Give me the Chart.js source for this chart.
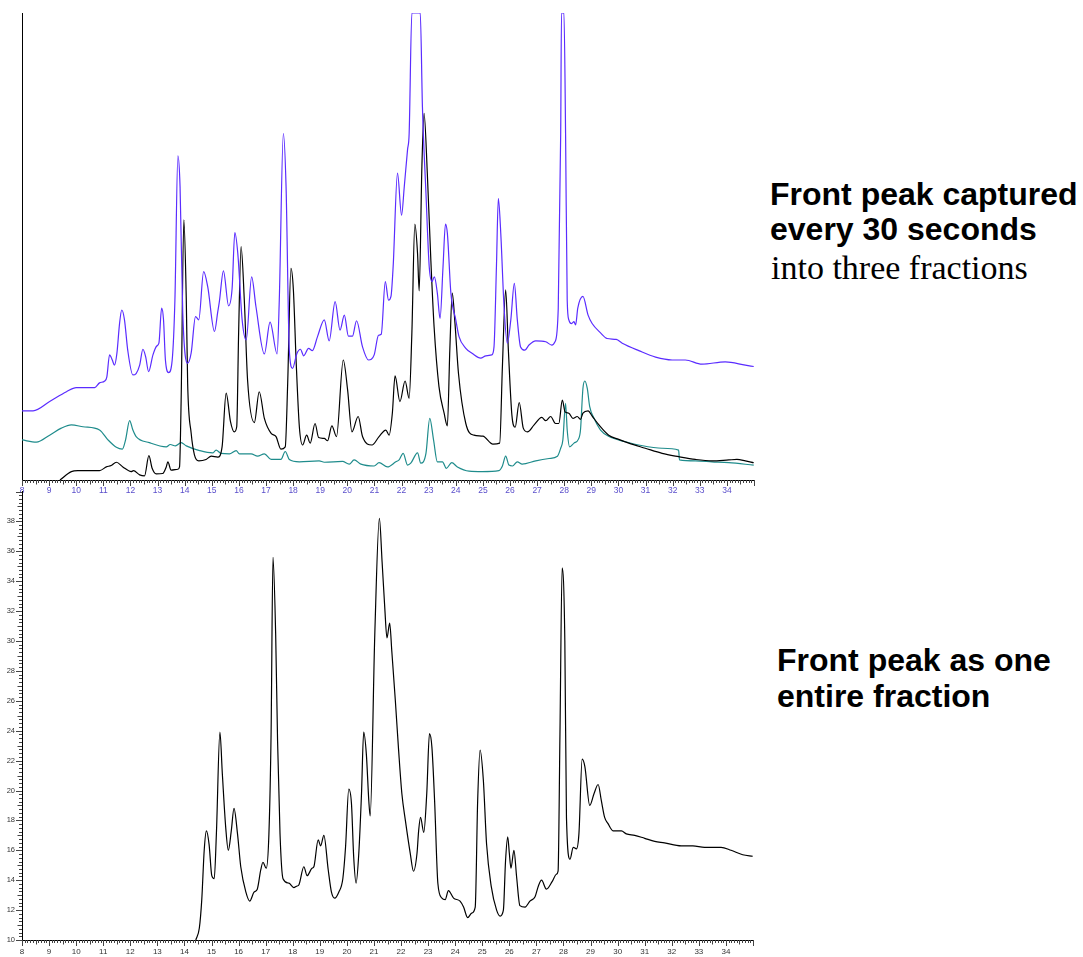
<!DOCTYPE html>
<html>
<head>
<meta charset="utf-8">
<script src="https://cdn.jsdelivr.net/npm/chart.js@4.4.1/dist/chart.umd.min.js"></script>
<style>
  html, body { margin: 0; padding: 0; background: #fff; overflow: hidden; }
  body { width: 1083px; height: 957px; position: relative; }
  canvas { position: absolute; left: 0; }
  #fractions { top: 0; }
  #whole { top: 480px; }
  .note { position: absolute; color: #000; white-space: nowrap; }
  .bold { font-family: 'Liberation Sans', Arial, sans-serif; font-weight: 700; font-size: 32px; }
  .serif { font-family: 'Liberation Serif', 'Times New Roman', serif; font-size: 34px; }
</style>
</head>
<body>
<canvas id="fractions" width="760" height="500"></canvas>
<canvas id="whole" width="760" height="480"></canvas>

<div class="note bold" style="left:770px; top:177px; line-height:35px;">Front peak captured<br>every 30 seconds</div>
<div class="note serif" style="left:771px; top:248px; line-height:40px;">into three fractions</div>
<div class="note bold" style="left:777px; top:642px; line-height:36px;">Front peak as one<br>entire fraction</div>

<script>
// Fraccionado: tres trazas (tiempo en min, señal en unidades relativas)
const blueTime = [8.00, 8.41, 9.02, 9.64, 10.0, 10.68, 10.86, 11.05, 11.13, 11.23, 11.33, 11.41, 11.50, 11.60, 11.68, 11.78, 11.90, 12.09, 12.21, 12.34, 12.46, 12.56, 12.67, 12.83, 12.97, 13.05, 13.15, 13.22, 13.29, 13.41, 13.54, 13.64, 13.75, 13.83, 13.93, 14.11, 14.24, 14.40, 14.52, 14.70, 14.85, 15.10, 15.22, 15.28, 15.43, 15.62, 15.75, 15.85, 15.96, 16.12, 16.27, 16.47, 16.63, 16.94, 17.15, 17.41, 17.49, 17.64, 17.74, 17.86, 17.98, 18.14, 18.27, 18.39, 18.57, 18.71, 18.90, 19.15, 19.33, 19.55, 19.73, 19.89, 20.04, 20.19, 20.34, 20.56, 20.78, 20.99, 21.15, 21.25, 21.40, 21.52, 21.61, 21.69, 21.85, 22.00, 22.10, 22.22, 22.28, 22.38, 22.69, 22.77, 22.90, 23.02, 23.12, 23.21, 23.32, 23.42, 23.53, 23.62, 23.69, 23.82, 24.00, 24.12, 24.37, 24.61, 24.92, 25.11, 25.33, 25.41, 25.50, 25.57, 25.66, 25.78, 25.90, 26.03, 26.16, 26.27, 26.39, 26.55, 26.70, 26.95, 27.32, 27.54, 27.66, 27.78, 27.87, 27.90, 27.99, 28.05, 28.11, 28.17, 28.27, 28.36, 28.42, 28.50, 28.69, 28.88, 29.03, 29.34, 29.58, 29.92, 30.14, 30.75, 31.37, 31.98, 32.47, 33.08, 33.94, 34.68, 34.99];
const blueSignal = [14.8, 14.8, 16.8, 18.9, 19.8, 19.8, 20.8, 21.2, 22.1, 26.8, 25.7, 24.6, 27.1, 33.6, 36.4, 34.3, 27.8, 22.5, 22.8, 24.6, 28.0, 26.4, 23.2, 26.8, 28.7, 29.3, 36.8, 34.3, 25.7, 23.0, 25.7, 38.5, 69.4, 62.8, 35.7, 25.0, 27.2, 35.0, 34.3, 44.6, 41.4, 31.8, 36.0, 38.2, 44.8, 37.3, 41.0, 53.0, 48.5, 34.3, 30.0, 43.5, 37.1, 27.0, 33.8, 27.0, 38.5, 74.2, 62.8, 27.8, 23.9, 27.1, 28.0, 26.6, 28.2, 27.7, 30.7, 34.3, 29.8, 38.2, 32.1, 35.3, 30.8, 30.8, 34.1, 28.5, 25.7, 26.8, 31.0, 31.2, 42.5, 38.5, 39.3, 45.7, 65.7, 56.7, 62.8, 70.7, 74.2, 100, 100, 79.9, 61.4, 45.7, 42.5, 43.5, 40.0, 34.6, 45.7, 54.8, 52.8, 40.0, 34.3, 30.7, 28.2, 27.1, 26.1, 26.6, 26.8, 28.5, 45.7, 60.3, 52.8, 37.1, 29.3, 34.3, 42.1, 34.3, 28.5, 27.8, 28.9, 29.8, 29.6, 28.9, 29.6, 36.8, 74.3, 100, 100, 74.2, 38.5, 34.3, 33.5, 33.9, 33.2, 36.8, 39.3, 35.3, 33.5, 31.5, 30.3, 30.1, 29.3, 27.7, 26.3, 25.7, 25.7, 24.8, 25.3, 24.6, 24.3];

const blackTime = [9.40, 9.82, 10.06, 10.86, 11.11, 11.29, 11.48, 11.72, 12.03, 12.11, 12.34, 12.52, 12.68, 12.80, 12.95, 13.19, 13.32, 13.38, 13.50, 13.75, 13.81, 13.87, 13.97, 14.06, 14.11, 14.24, 14.36, 14.52, 14.79, 14.98, 15.22, 15.38, 15.53, 15.69, 15.83, 15.92, 15.99, 16.08, 16.20, 16.32, 16.57, 16.75, 16.94, 17.19, 17.37, 17.55, 17.71, 17.80, 17.92, 18.01, 18.11, 18.23, 18.35, 18.50, 18.63, 18.81, 18.94, 19.15, 19.27, 19.43, 19.60, 19.85, 20.01, 20.17, 20.40, 20.56, 20.91, 21.17, 21.42, 21.54, 21.66, 21.76, 21.94, 22.13, 22.28, 22.38, 22.49, 22.59, 22.65, 22.75, 22.83, 22.95, 23.08, 23.20, 23.38, 23.57, 23.69, 23.78, 23.87, 23.97, 24.10, 24.37, 24.67, 25.00, 25.37, 25.62, 25.72, 25.84, 25.94, 26.07, 26.19, 26.34, 26.49, 26.64, 26.89, 27.17, 27.32, 27.50, 27.68, 27.80, 27.93, 28.03, 28.17, 28.32, 28.48, 28.60, 28.69, 28.88, 29.03, 29.28, 29.64, 30.01, 30.38, 30.99, 31.61, 32.22, 32.84, 33.45, 34.07, 34.37, 34.68, 34.99];
const blackSignal = [0.0, 1.8, 2.0, 2.0, 2.8, 3.1, 3.8, 2.8, 1.8, 2.0, 1.1, 0.9, 5.2, 2.5, 1.3, 1.4, 2.8, 3.9, 2.1, 2.3, 2.8, 17.1, 55.7, 38.5, 20.7, 10.0, 5.4, 4.1, 4.4, 5.1, 4.9, 7.1, 18.6, 12.5, 10.3, 11.4, 31.4, 50.0, 38.5, 21.4, 12.3, 18.9, 13.2, 10.0, 9.3, 6.6, 7.1, 20.7, 45.3, 40.7, 25.7, 11.4, 7.5, 9.6, 7.9, 12.1, 9.1, 8.9, 8.4, 11.6, 9.3, 25.7, 19.3, 10.3, 13.6, 9.3, 7.5, 9.3, 10.7, 9.6, 14.3, 22.3, 16.8, 21.2, 17.5, 31.4, 54.8, 48.5, 40.5, 67.1, 78.5, 65.7, 47.1, 32.8, 20.0, 14.3, 11.6, 27.8, 40.0, 33.6, 22.8, 12.1, 9.6, 9.4, 7.7, 7.9, 24.3, 40.7, 27.8, 13.9, 11.3, 16.6, 11.1, 10.3, 11.8, 13.4, 12.7, 13.6, 12.1, 12.1, 17.1, 14.6, 14.3, 13.2, 13.6, 13.0, 14.3, 14.8, 13.7, 11.8, 9.6, 8.7, 7.9, 6.8, 5.7, 5.0, 4.4, 4.1, 4.3, 4.4, 4.1, 3.7];

const tealTime = [8.00, 8.53, 9.02, 9.45, 9.82, 10.25, 10.86, 11.17, 11.48, 11.70, 11.82, 11.97, 12.09, 12.21, 12.70, 13.32, 13.47, 13.66, 13.87, 14.06, 14.55, 15.03, 15.16, 15.34, 15.65, 15.90, 16.02, 16.45, 16.69, 16.94, 17.19, 17.55, 17.71, 17.86, 18.23, 18.96, 19.15, 19.82, 20.07, 20.25, 20.50, 20.99, 21.17, 21.48, 21.79, 21.91, 22.06, 22.22, 22.34, 22.59, 22.71, 22.90, 23.04, 23.18, 23.32, 23.51, 23.65, 23.85, 24.06, 24.49, 24.98, 25.59, 25.72, 25.84, 25.96, 26.09, 26.27, 26.45, 26.95, 27.44, 27.75, 27.87, 27.95, 28.05, 28.11, 28.20, 28.36, 28.52, 28.60, 28.69, 28.76, 28.85, 28.94, 29.10, 29.34, 29.65, 30.26, 30.75, 31.61, 32.22, 32.25, 32.84, 33.45, 34.07, 34.99];
const tealSignal = [8.6, 8.1, 9.6, 11.1, 11.8, 11.4, 10.7, 8.6, 7.0, 6.6, 8.6, 12.7, 10.7, 9.3, 8.0, 7.1, 7.6, 7.3, 8.0, 7.3, 6.3, 5.8, 6.4, 5.7, 5.6, 6.3, 5.6, 5.6, 5.1, 5.6, 4.4, 4.4, 6.1, 4.4, 3.9, 4.1, 3.8, 4.0, 3.4, 4.3, 3.4, 3.0, 3.7, 2.8, 3.9, 4.3, 5.7, 3.2, 3.6, 5.8, 3.6, 5.7, 13.2, 8.6, 3.9, 3.9, 2.5, 3.7, 2.8, 1.9, 1.8, 2.0, 3.0, 5.1, 3.2, 3.0, 3.9, 3.4, 4.1, 4.6, 5.1, 6.8, 8.6, 16.4, 10.7, 7.1, 7.9, 8.7, 10.7, 19.6, 21.2, 19.6, 15.7, 13.2, 10.7, 9.3, 8.2, 7.5, 6.8, 6.4, 4.3, 4.1, 3.9, 3.7, 3.2];

// Fracción única (eje y 10-40)
const wholeTime = [14.42, 14.55, 14.64, 14.73, 14.81, 14.91, 15.01, 15.10, 15.18, 15.31, 15.40, 15.53, 15.62, 15.73, 15.83, 15.96, 16.08, 16.27, 16.41, 16.57, 16.69, 16.82, 16.90, 17.02, 17.12, 17.20, 17.27, 17.37, 17.44, 17.53, 17.64, 17.86, 18.04, 18.14, 18.23, 18.41, 18.53, 18.71, 18.78, 18.94, 19.03, 19.15, 19.31, 19.43, 19.55, 19.70, 19.85, 19.95, 20.07, 20.17, 20.25, 20.34, 20.44, 20.54, 20.62, 20.72, 20.81, 20.86, 21.03, 21.20, 21.30, 21.40, 21.48, 21.58, 21.66, 21.79, 21.91, 22.03, 22.16, 22.34, 22.46, 22.59, 22.65, 22.72, 22.84, 22.95, 23.05, 23.14, 23.24, 23.36, 23.51, 23.63, 23.75, 23.94, 24.18, 24.31, 24.46, 24.61, 24.74, 24.83, 24.92, 25.04, 25.16, 25.33, 25.53, 25.66, 25.78, 25.86, 25.94, 26.00, 26.06, 26.17, 26.27, 26.39, 26.58, 26.76, 26.95, 27.07, 27.19, 27.37, 27.58, 27.74, 27.80, 27.87, 27.95, 28.05, 28.11, 28.24, 28.36, 28.48, 28.57, 28.69, 28.79, 28.97, 29.13, 29.28, 29.40, 29.52, 29.64, 29.83, 30.14, 30.32, 30.63, 31.00, 31.37, 31.73, 32.35, 32.78, 33.21, 33.82, 34.19, 34.62, 34.99];
const wholeSignal = [10.0, 10.8, 12.7, 16.0, 17.3, 16.4, 14.3, 14.1, 17.1, 23.9, 21.1, 17.4, 16.0, 17.3, 18.8, 17.1, 14.9, 13.2, 12.6, 13.2, 13.4, 14.7, 15.2, 14.8, 17.1, 23.8, 35.6, 30.4, 23.3, 17.1, 14.1, 13.8, 13.5, 13.6, 13.7, 14.9, 14.3, 14.8, 14.9, 16.7, 16.3, 17.0, 14.7, 13.2, 12.8, 13.2, 14.1, 16.2, 20.1, 19.1, 15.6, 13.8, 15.8, 19.8, 23.9, 22.4, 19.3, 18.3, 30.4, 38.2, 35.3, 32.2, 30.2, 31.2, 29.3, 26.0, 22.7, 19.8, 18.0, 15.8, 14.6, 15.8, 17.3, 18.2, 17.2, 19.8, 23.8, 22.9, 19.3, 13.8, 12.8, 12.7, 13.3, 12.8, 12.6, 12.2, 11.5, 11.8, 12.2, 19.3, 22.7, 20.7, 16.4, 13.6, 12.0, 11.6, 12.0, 15.3, 16.9, 15.8, 14.8, 16.0, 14.2, 12.3, 12.2, 12.6, 12.9, 13.6, 14.0, 13.4, 13.9, 14.4, 14.6, 23.8, 34.9, 30.0, 18.2, 15.4, 16.2, 16.1, 17.1, 22.1, 21.6, 19.0, 19.8, 20.4, 19.3, 18.2, 17.8, 17.3, 17.3, 17.1, 17.0, 16.8, 16.6, 16.5, 16.3, 16.3, 16.2, 16.2, 16.0, 15.7, 15.6];

Chart.defaults.font.family = "'Liberation Sans', Arial, sans-serif";
Chart.defaults.animation = false;

function toPoints(xs, ys) {
    return xs.map((x, i) => ({ x: x, y: ys[i] }));
}

function trace(data, color) {
    return {
        data: data,
        borderColor: color,
        borderWidth: 1.2,
        pointRadius: 0,
        fill: false,
        cubicInterpolationMode: 'monotone'
    };
}

// Reglilla de marcas: cada 0.1 min en x, cada 0.25 en y
const rulerTicks = {
    id: 'rulerTicks',
    afterDraw(chart, args, opts) {
        const ctx = chart.ctx;
        const xs = chart.scales.x;
        ctx.save();
        ctx.strokeStyle = opts.color;
        ctx.lineWidth = 1;
        ctx.beginPath();
        for (let i = Math.round(xs.min * 10); i <= Math.round(xs.max * 10); i++) {
            const px = Math.round(xs.getPixelForValue(i / 10)) + 0.5;
            const len = i % 10 === 0 ? 6 : (i % 5 === 0 ? 4.5 : 3);
            ctx.moveTo(px, xs.top);
            ctx.lineTo(px, xs.top + len);
        }
        if (opts.yTicks) {
            const ys = chart.scales.y;
            for (let j = Math.round(ys.min * 4); j <= Math.round(ys.max * 4); j++) {
                const py = Math.round(ys.getPixelForValue(j / 4)) + 0.5;
                const len = j % 8 === 0 ? 6 : (j % 4 === 0 ? 4.5 : 3);
                ctx.moveTo(ys.right, py);
                ctx.lineTo(ys.right - len, py);
            }
        }
        ctx.stroke();
        ctx.restore();
    }
};

function timeAxis(labelColor, pad, size) {
    return {
        type: 'linear',
        min: 8,
        max: 35,
        afterFit: scale => { scale.height = 20; },
        grid: { drawOnChartArea: false, drawTicks: false },
        border: { display: true, color: '#000', width: 1 },
        ticks: {
            stepSize: 1,
            autoSkip: false,
            maxRotation: 0,
            padding: pad,
            color: labelColor,
            font: { size: size },
            callback: v => (v >= 35 ? '' : v)
        }
    };
}

// Gráfico superior: tres fracciones
new Chart(document.getElementById('fractions'), {
    type: 'line',
    data: {
        datasets: [
            trace(toPoints(blueTime, blueSignal), '#5a2cff'),
            trace(toPoints(blackTime, blackSignal), '#000000'),
            trace(toPoints(tealTime, tealSignal), '#1f8c8c')
        ]
    },
    options: {
        responsive: false,
        layout: { padding: { top: 13, right: 5, left: 0, bottom: 0 } },
        scales: {
            x: timeAxis('#5a4ecb', 6, 8.5),
            y: {
                min: 0,
                max: 100,
                afterFit: scale => { scale.width = 22; },
                grid: { drawOnChartArea: false, drawTicks: false },
                border: { display: true, color: '#000', width: 1 },
                ticks: { display: false }
            }
        },
        plugins: {
            legend: { display: false },
            tooltip: { enabled: false },
            rulerTicks: { color: '#444' }
        }
    },
    plugins: [rulerTicks]
});

// Gráfico inferior: fracción completa
new Chart(document.getElementById('whole'), {
    type: 'line',
    data: {
        datasets: [trace(toPoints(wholeTime, wholeSignal), '#000000')]
    },
    options: {
        responsive: false,
        layout: { padding: { top: 10, right: 5, left: 0, bottom: 0 } },
        scales: {
            x: timeAxis('#333', 7, 8),
            y: {
                min: 10,
                max: 40,
                afterFit: scale => { scale.width = 22; },
                grid: { drawOnChartArea: false, drawTicks: false },
                border: { display: true, color: '#000', width: 1 },
                ticks: {
                    stepSize: 2,
                    padding: 7,
                    color: '#333',
                    font: { size: 7.5 },
                    callback: v => (v >= 40 ? '' : v)
                }
            }
        },
        plugins: {
            legend: { display: false },
            tooltip: { enabled: false },
            rulerTicks: { color: '#444', yTicks: true }
        }
    },
    plugins: [rulerTicks]
});
</script>
</body>
</html>
